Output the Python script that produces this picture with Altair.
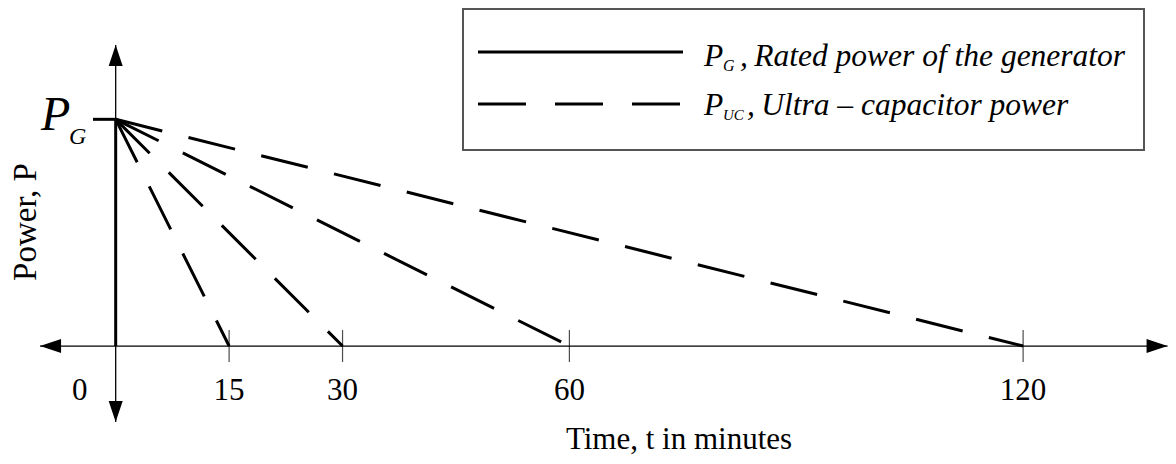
import altair as alt
import pandas as pd

# ---- data ----
end_times = [15, 30, 60, 120]          # minutes at which P_UC reaches 0
tick_times = [15, 30, 60, 120]
tick_labels = ["15", "30", "60", "120"]
origin_label = "0"
P_G = 1.0                               # rated generator power (normalised)

# ---- scales ----
X_DOM = [-14.24, 139.16]
Y_DOM = [-0.485, 1.491]
xs = alt.Scale(domain=X_DOM, nice=False, zero=False)
ys = alt.Scale(domain=Y_DOM, nice=False, zero=False)

FONT = "Times New Roman, Liberation Serif, serif"
BLACK = "#000000"

# dashed ultra-capacitor power lines
rows = []
for T in end_times:
    rows.append({"line": str(T), "t": 0.0, "p": P_G})
    rows.append({"line": str(T), "t": float(T), "p": 0.0})
uc_df = pd.DataFrame(rows)

uc_lines = alt.Chart(uc_df).mark_line(
    color=BLACK, strokeWidth=3, strokeDash=[48, 27], strokeCap="butt"
).encode(
    x=alt.X("t:Q", scale=xs, axis=None),
    y=alt.Y("p:Q", scale=ys, axis=None),
    detail="line:N",
    order="t:Q",
)

# axes (drawn in data space)
axis_df = pd.DataFrame({
    "t": [-10.0, 0.0],
    "t2": [139.1, 0.0],
    "p": [0.0, -0.335],
    "p2": [0.0, 1.328],
})
axis_lines = alt.Chart(axis_df).mark_rule(color=BLACK, strokeWidth=1.3).encode(
    x=alt.X("t:Q", scale=xs, axis=None), x2="t2:Q",
    y=alt.Y("p:Q", scale=ys, axis=None), y2="p2:Q",
)

arrow_df = pd.DataFrame({
    "t": [-10.0, 139.1, 0.0, 0.0],
    "p": [0.0, 0.0, 1.328, -0.335],
    "angle": [270, 90, 0, 180],
})
arrows = alt.Chart(arrow_df).mark_point(
    shape="M0,0L0.667,2L-0.667,2Z", filled=True, opacity=1, size=441,
    color=BLACK, strokeWidth=0,
).encode(
    x=alt.X("t:Q", scale=xs, axis=None),
    y=alt.Y("p:Q", scale=ys, axis=None),
    angle=alt.Angle("angle:Q", scale=None),
)

# generator power: thick vertical from 0 to P_G plus level mark
pg_df = pd.DataFrame({"t": [0.0, -3.0], "t2": [0.0, 0.0], "p": [0.0, P_G], "p2": [P_G, P_G]})
pg_lines = alt.Chart(pg_df).mark_rule(color=BLACK, strokeWidth=3, strokeCap="butt").encode(
    x=alt.X("t:Q", scale=xs, axis=None), x2="t2:Q",
    y=alt.Y("p:Q", scale=ys, axis=None), y2="p2:Q",
)

# x ticks and labels
tick_df = pd.DataFrame({"t": end_times, "p": [0.0] * len(end_times)})
ticks = alt.Chart(tick_df).mark_tick(
    orient="vertical", size=32, thickness=1.2, color=BLACK
).encode(
    x=alt.X("t:Q", scale=xs, axis=None),
    y=alt.Y("p:Q", scale=ys, axis=None),
)

lab_df = pd.DataFrame({"t": tick_times, "p": [0.0] * len(tick_times), "label": tick_labels})
tick_text = alt.Chart(lab_df).mark_text(
    font=FONT, fontSize=31, baseline="alphabetic", align="center", dy=54, color=BLACK
).encode(
    x=alt.X("t:Q", scale=xs, axis=None),
    y=alt.Y("p:Q", scale=ys, axis=None),
    text="label:N",
)
origin_df = pd.DataFrame({"t": [0.0], "p": [0.0], "label": [origin_label]})
origin_text = alt.Chart(origin_df).mark_text(
    font=FONT, fontSize=31, baseline="alphabetic", align="center", dy=54, dx=-36, color=BLACK
).encode(
    x=alt.X("t:Q", scale=xs, axis=None),
    y=alt.Y("p:Q", scale=ys, axis=None),
    text="label:N",
)

one = pd.DataFrame({"a": [0]})

def txt(s, x, y, size, italic=False, align="left", angle=0):
    kw = dict(font=FONT, fontSize=size, baseline="alphabetic", align=align, color=BLACK)
    if italic:
        kw["fontStyle"] = "italic"
    if angle:
        kw["angle"] = angle
    return alt.Chart(one).mark_text(**kw).encode(
        x=alt.value(x), y=alt.value(y), text=alt.value(s)
    )

x_title = txt("Time, t in minutes", 671, 441, 31, align="center")
y_title = txt("Power, P", 28, 214, 33, align="center", angle=270)
pg_P = txt("P", 33, 122, 48, italic=True)
pg_G = txt("G", 61, 136, 24, italic=True)

# legend
legend_box = alt.Chart(one).mark_rect(fill="white", stroke="#555555", strokeWidth=2).encode(
    x=alt.value(455), x2=alt.value(1136), y=alt.value(1), y2=alt.value(142)
)
leg_solid = alt.Chart(one).mark_rule(color=BLACK, strokeWidth=3, strokeCap="butt").encode(
    x=alt.value(470), x2=alt.value(675), y=alt.value(44), y2=alt.value(44)
)
leg_dash = alt.Chart(one).mark_rule(
    color=BLACK, strokeWidth=3, strokeDash=[48, 29], strokeCap="butt"
).encode(
    x=alt.value(470), x2=alt.value(674), y=alt.value(96), y2=alt.value(96)
)
leg_t1 = [
    txt("P", 696, 58, 31.5, italic=True),
    txt("G", 715, 63, 16, italic=True),
    txt(",\u2009Rated power of the generator", 732, 58, 31.5, italic=True),
]
leg_t2 = [
    txt("P", 696, 107, 31.5, italic=True),
    txt("UC", 715, 112, 15, italic=True),
    txt(",\u2009Ultra – capacitor power", 739, 107, 31.5, italic=True),
]

chart = alt.layer(
    legend_box, leg_solid, leg_dash, *leg_t1, *leg_t2,
    axis_lines, ticks, arrows, uc_lines, pg_lines, tick_text, origin_text,
    x_title, y_title, pg_P, pg_G,
).properties(
    width=1160, height=448, padding=0,
    autosize=alt.AutoSizeParams(type="none"),
    background="white",
).configure_view(stroke=None)

chart.save("out.html", embed_options={"renderer": "svg", "actions": False})
